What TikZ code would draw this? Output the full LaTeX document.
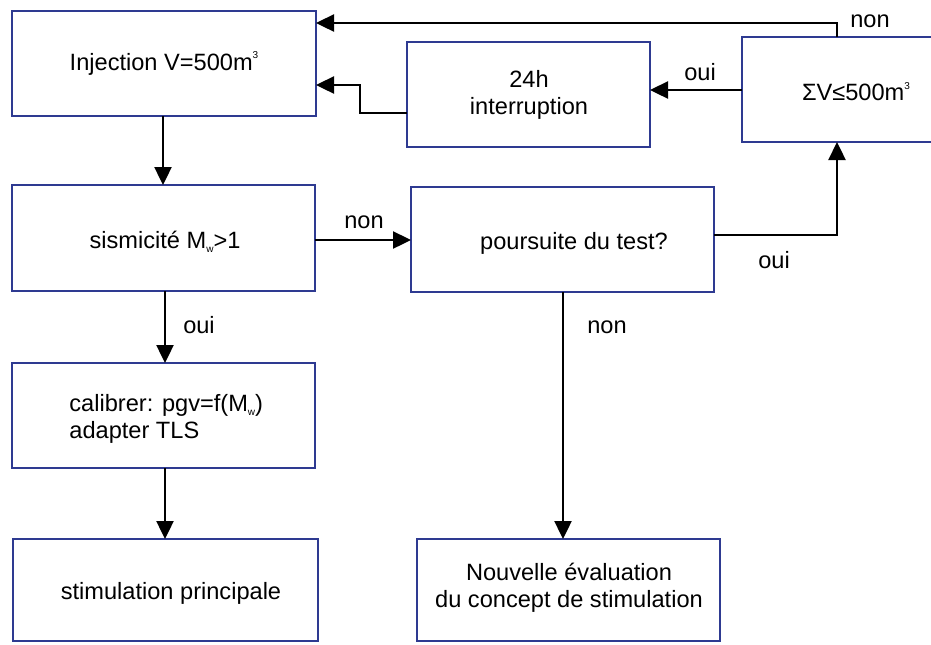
\documentclass[tikz,border=0pt]{standalone}
\usepackage{fontspec}
\setmainfont{Liberation Sans}
\usetikzlibrary{arrows.meta}
\definecolor{boxblue}{RGB}{46,58,145}
\tikzset{
  px/.style={x=0.5pt,y=-0.5pt},
  box/.style={draw=boxblue,line width=1.3pt},
  conn/.style={draw=black,line width=1.2pt,-{Triangle[width=8.5pt,length=9pt]}},
  txt/.style={font=\fontsize{11.8}{13.5}\selectfont,inner sep=0pt,align=center},
  lbl/.style={font=\fontsize{11.8}{13.5}\selectfont,inner sep=0pt}
}
\newcommand{\supthree}{\raisebox{0.9ex}{\fontsize{5}{5}\selectfont 3}}
\newcommand{\subw}{\raisebox{-0.35ex}{\fontsize{5}{5}\selectfont w}}
\begin{document}
\begin{tikzpicture}[px]
\useasboundingbox (0,0) rectangle (931,644);
% boxes
\draw[box] (12,11) rectangle (316,116);
\node[txt] (A) at (164,63.5) {Injection V=500m\supthree};
\draw[box] (407,42) rectangle (650,147);
\node[txt] (B) at (529,94.5) {24h\\interruption};
\draw[box] (742,37) rectangle (975,142);
\node[txt] (C) at (856,92) {ΣV≤500m\supthree};
\draw[box] (12,185) rectangle (315,291);
\node[txt] (D) at (165,242) {sismicité M\subw>1};
\draw[box] (411,187) rectangle (714,292);
\node[txt] (E) at (574,243) {poursuite du test?};
\draw[box] (12,363) rectangle (315,468);
\node[txt,align=left,anchor=west] (F) at (69,419) {calibrer: pgv=f(M\subw)\\adapter TLS};
\draw[box] (13,539) rectangle (318,641);
\node[txt] (G) at (171,593) {stimulation principale};
\draw[box] (417,539) rectangle (720,641);
\node[txt] (H) at (569,588) {Nouvelle évaluation\\du concept de stimulation};
% connector coordinates
\coordinate (Cb) at (837,142);
\coordinate (Ct) at (837,37);
\coordinate (Ar) at (316,23);
\coordinate (Ar2) at (316,85);
\coordinate (Bl) at (407,113);
\coordinate (Br) at (650,90);
\coordinate (Cl) at (742,90);
\coordinate (Ab) at (163,116);
\coordinate (Dt) at (163,185);
\coordinate (Dr) at (315,240);
\coordinate (El) at (411,240);
\coordinate (Er) at (714,235);
\coordinate (Db) at (165,291);
\coordinate (Ft) at (165,363);
\coordinate (Fb) at (165,468);
\coordinate (Gt) at (165,539);
\coordinate (Eb) at (563,292);
\coordinate (Ht) at (563,539);
% connectors
\draw[conn] (Ct) |- (Ar);
\draw[conn] (Bl) -- (360,113) |- (Ar2);
\draw[conn] (Cl) -- (Br);
\draw[conn] (Ab) -- (Dt);
\draw[conn] (Dr) -- (El);
\draw[conn] (Er) -| (Cb);
\draw[conn] (Db) -- (Ft);
\draw[conn] (Fb) -- (Gt);
\draw[conn] (Eb) -- (Ht);
% labels
\node[lbl] (l1) at (870,21) {non};
\node[lbl] (l2) at (700,72) {oui};
\node[lbl] (l3) at (364,222) {non};
\node[lbl] (l4) at (774,260) {oui};
\node[lbl] (l5) at (199,325) {oui};
\node[lbl] (l6) at (607,327) {non};
\end{tikzpicture}
\end{document}
